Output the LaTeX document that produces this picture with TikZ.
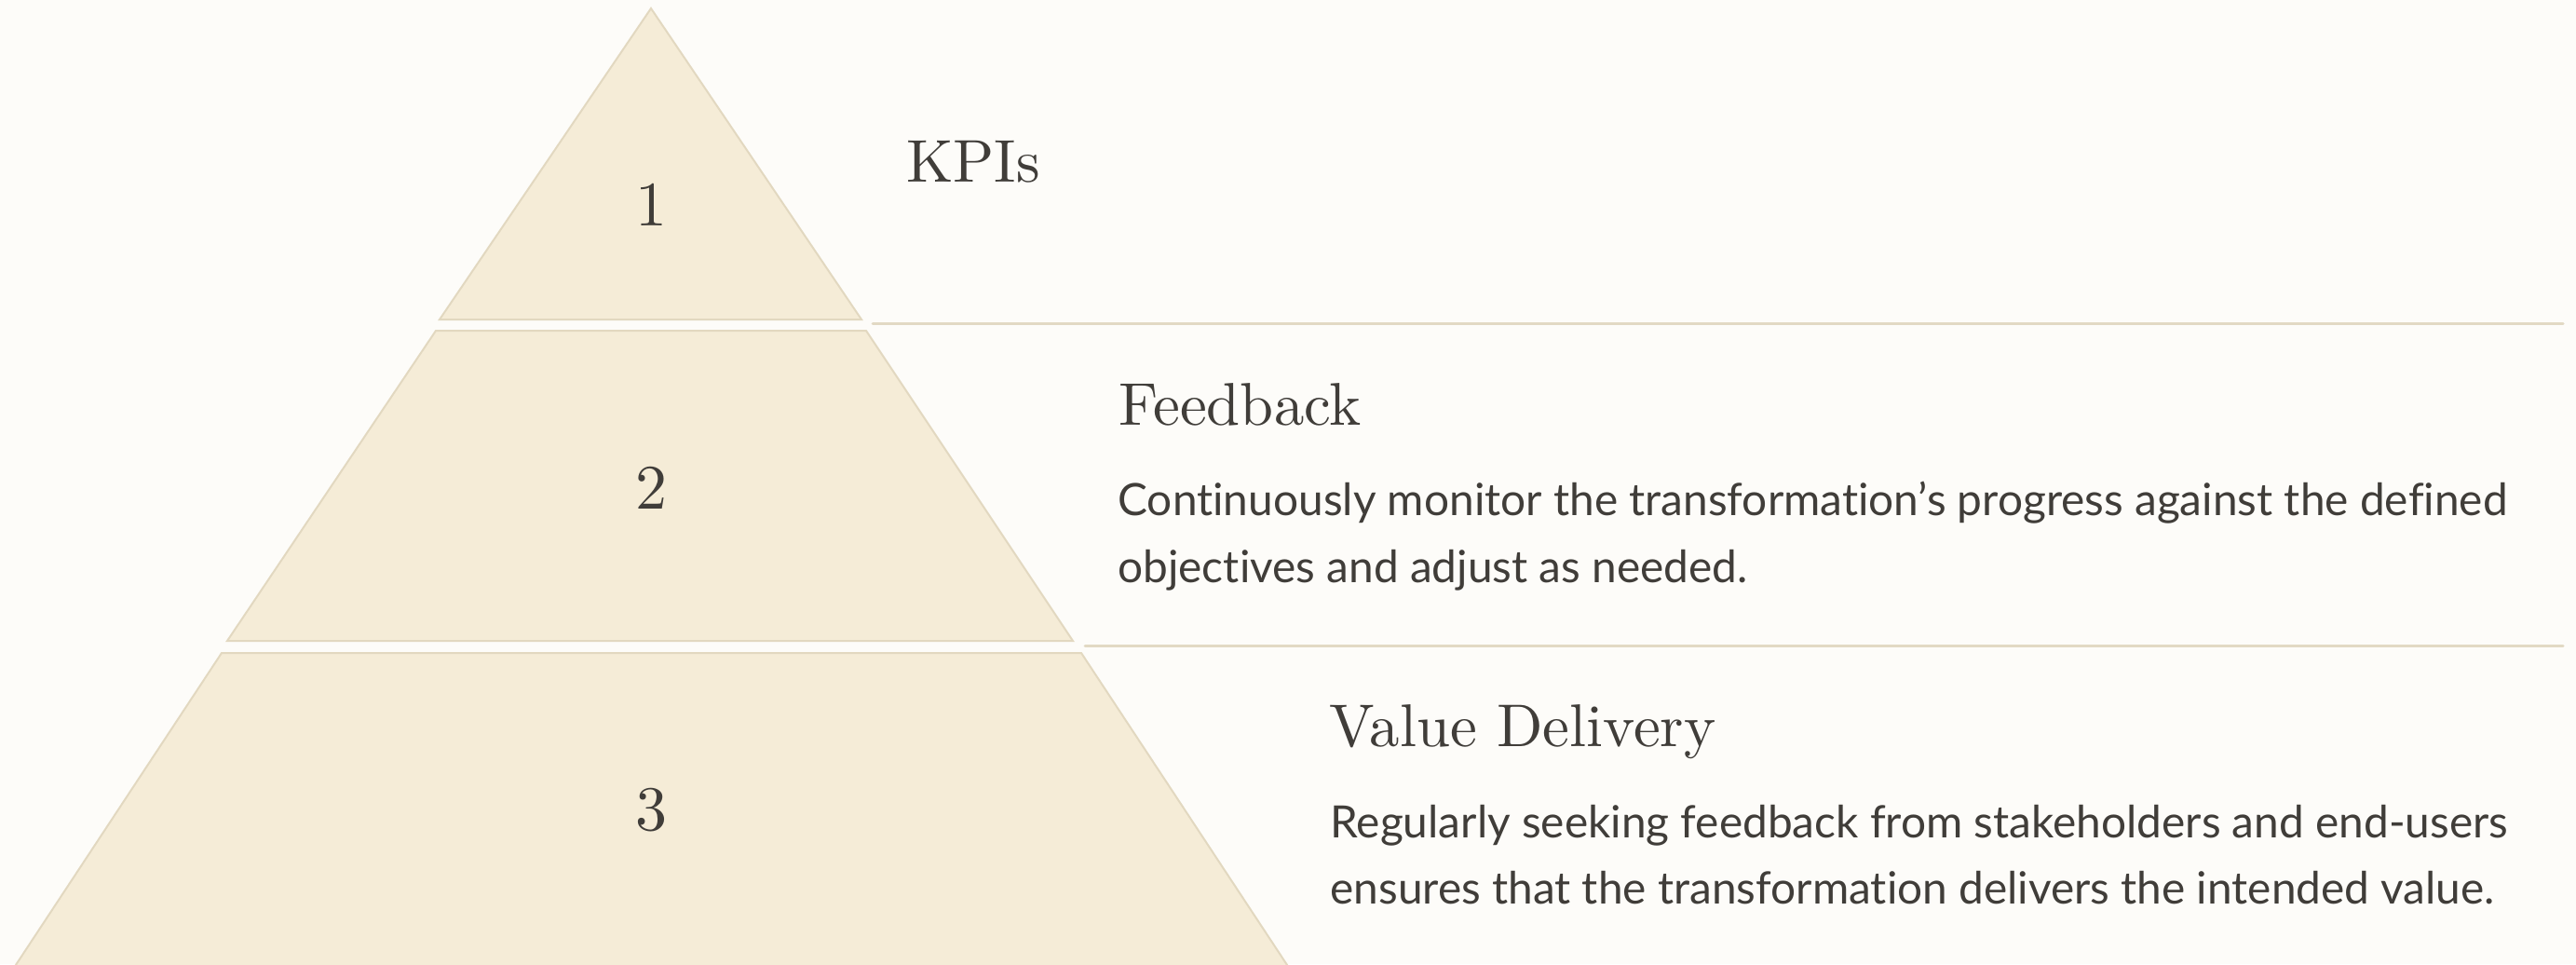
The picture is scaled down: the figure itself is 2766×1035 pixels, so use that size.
\documentclass[tikz,border=0pt]{standalone}
\usepackage{fontspec}
\newfontfamily\bodyfont{Lato}[Ligatures={NoCommon}]
\newfontfamily\headfont{lmroman10-regular}[Extension=.otf]
\usetikzlibrary{positioning}
\definecolor{bgc}{HTML}{FDFCF9}
\definecolor{tierfill}{HTML}{F5ECD7}
\definecolor{tieredge}{HTML}{E2D8C0}
\definecolor{sepc}{HTML}{E2D9C4}
\definecolor{inkc}{HTML}{403D39}
\tikzset{
  tier/.style={fill=tierfill,draw=tieredge,line width=1pt,line join=miter},
  sepline/.style={draw=sepc,line width=1.5pt,line cap=round},
  tiernum/.style={inner sep=0pt,anchor=center,text=inkc,font=\headfont\fontsize{34}{40}\selectfont},
  heading/.style={inner sep=0pt,anchor=base west,text=inkc,font=\headfont\fontsize{32.4}{38}\selectfont},
  bodytext/.style={inner sep=0pt,anchor=base west,text=inkc,font=\bodyfont\fontsize{23.9}{28}\selectfont}
}
\begin{document}
\begin{tikzpicture}[x=0.5pt,y=-0.5pt]
\useasboundingbox (0,0) rectangle (2766,1035);
\fill[bgc] (0,0) rectangle (2766,1035);
\clip (0,0) rectangle (2766,1035);
% tiers
\draw[tier] (699,9) -- (925,343) -- (472,343) -- cycle;
\draw[tier] (468,355) -- (930,355) -- (1152,688) -- (244,688) -- cycle;
\draw[tier] (238,701) -- (1161,701) -- (1388,1045) -- (11,1045) -- cycle;
% separators
\coordinate (s1a) at (937,347.5);
\coordinate (s1b) at (2752,347.5);
\coordinate (s2a) at (1165,693);
\coordinate (s2b) at (2752,693);
\draw[sepline] (s1a) -- (s1b);
\draw[sepline] (s2a) -- (s2b);
% numbers
\node[tiernum] (n1) at (699,220) {1};
\node[tiernum] (n2) at (699,524) {2};
\node[tiernum] (n3) at (699,870) {3};
% headings
\node[heading] (h1) at (973,195) {KPIs};
\node[heading] (h2) at (1201,456) {Feedback};
\node[heading] (h3) at (1427,801) {Value Delivery};
% body
\node[bodytext] (b2a) at (1200,553) {Continuously monitor the transformation’s progress against the defined};
\node[bodytext] (b2b) at (1200,625) {objectives and adjust as needed.};
\node[bodytext] (b3a) at (1428,899) {Regularly seeking feedback from stakeholders and end-users};
\node[bodytext] (b3b) at (1428,970) {ensures that the transformation delivers the intended value.};
\end{tikzpicture}
\end{document}
